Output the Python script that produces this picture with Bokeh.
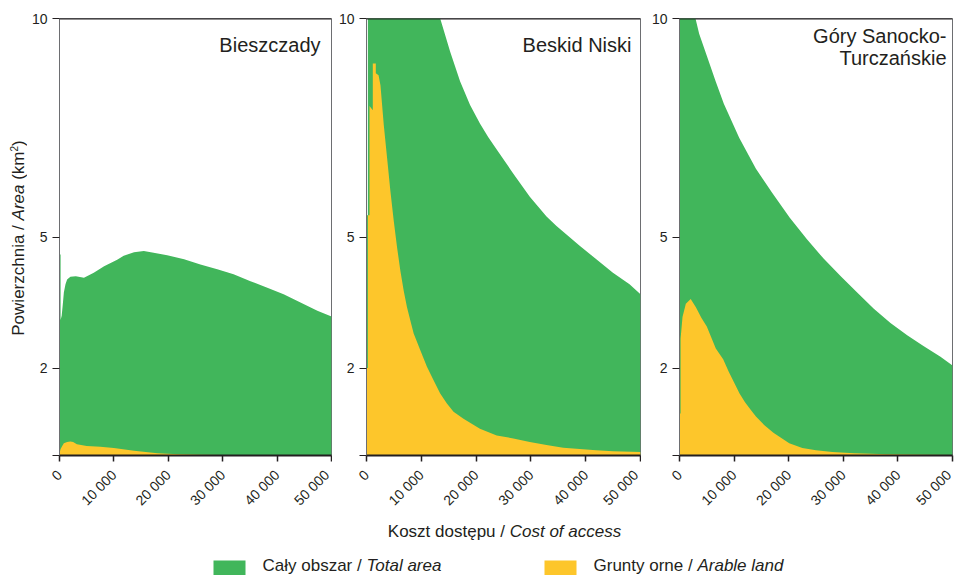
import math
from bokeh.plotting import figure
from bokeh.models import Range1d, FixedTicker, Label, Span, BoxAnnotation
from bokeh.layouts import row, column
from bokeh.embed import file_html
from bokeh.resources import INLINE

# ---------------- data ----------------
x_ticks = [0, 10000, 20000, 30000, 40000, 50000]
x_tick_labels = ["0", "10 000", "20 000", "30 000", "40 000", "50 000"]
y_ticks = [0, 2, 5, 10]
y_tick_labels = ["", "2", "5", "10"]

panel_titles = [["Bieszczady"], ["Beskid Niski"], ["Góry Sanocko-", "Turczańskie"]]

# Bieszczady
bie_x_total = [0, 200, 200, 400, 600, 800, 1100, 1400, 2000, 3000, 4500, 6300, 8200, 10600,
               11800, 13700, 15500, 17300, 19800, 22900, 25900, 29000, 32000, 35100, 38200,
               41200, 44300, 47400, 50000]
bie_total = [4.6, 4.6, 3.1, 3.2, 3.45, 3.73, 3.92, 4.03, 4.09, 4.1, 4.07, 4.18, 4.33, 4.48,
             4.57, 4.65, 4.68, 4.64, 4.58, 4.49, 4.37, 4.26, 4.15, 3.99, 3.84, 3.69, 3.5, 3.31, 3.18]
bie_x_arable = [0, 200, 500, 800, 1400, 2000, 2500, 3200, 5000, 7500, 10000, 12000, 13700,
                15000, 16700, 18000, 19800, 22000, 26000, 30000, 35000, 40000, 50000]
bie_arable = [0.05, 0.15, 0.22, 0.28, 0.31, 0.32, 0.31, 0.26, 0.22, 0.2, 0.17, 0.14, 0.11,
              0.09, 0.07, 0.05, 0.04, 0.03, 0.015, 0.01, 0.01, 0.005, 0.005]

# Beskid Niski
bn_x_total = [0, 250, 250, 3000, 6000, 9000, 11500, 13450, 15270, 17090, 18900, 20700, 22200,
              23760, 26800, 29800, 32850, 34670, 38900, 41940, 44970, 48000, 50000]
bn_total = [5.5, 5.5, 17.0, 15.5, 13.5, 12.0, 10.8, 10.0, 9.24, 8.56, 8.02, 7.6, 7.29,
            7.0, 6.45, 5.92, 5.47, 5.25, 4.8, 4.49, 4.18, 3.92, 3.69]
bn_x_arable = [0, 250, 250, 550, 550, 1150, 1150, 1700, 1700, 2200, 2550, 3150, 3760, 4360,
               4970, 5580, 6180, 6790, 7390, 8000, 8610, 9820, 11030, 12240, 13450, 14670,
               15880, 17700, 20700, 23760, 26800, 29800, 32850, 35900, 38900, 41900, 45000, 50000]
bn_arable = [2.0, 2.0, 5.5, 5.5, 8.0, 7.9, 8.97, 8.97, 8.75, 8.7, 8.47, 7.57, 6.81, 6.05,
             5.37, 4.76, 4.23, 3.77, 3.39, 3.09, 2.79, 2.41, 2.03, 1.72, 1.42, 1.19,
             1.0, 0.84, 0.61, 0.46, 0.39, 0.31, 0.24, 0.18, 0.15, 0.12, 0.1, 0.08]

# Góry Sanocko-Turczańskie
gst_x_total = [0, 1500, 2930, 3600, 5000, 6650, 8120, 10930, 14000, 17030, 20200, 23380,
               26430, 29490, 32540, 35590, 38640, 41700, 44750, 47800, 50000]
gst_total = [13.0, 11.2, 10.0, 9.65, 9.15, 8.55, 8.05, 7.27, 6.56, 6.0, 5.44, 4.94,
             4.5, 4.11, 3.73, 3.36, 3.03, 2.75, 2.5, 2.26, 2.06]
gst_x_arable = [0, 200, 200, 550, 1160, 2050, 3000, 4000, 5000, 6650, 8000, 9000, 10000,
                11000, 12000, 13000, 14000, 15500, 17200, 20100, 22500, 25000, 28000,
                32000, 38000, 45000, 50000]
gst_arable = [0.96, 0.96, 2.67, 3.17, 3.47, 3.58, 3.39, 3.15, 2.95, 2.45, 2.2, 1.92, 1.67,
              1.42, 1.22, 1.05, 0.89, 0.7, 0.52, 0.28, 0.17, 0.12, 0.08, 0.05, 0.03, 0.015, 0.01]

legend_labels = [("Cały obszar /", "Total area"), ("Grunty orne /", "Arable land")]
x_axis_label = ("Koszt dostępu /", "Cost of access")
y_axis_label = ("Powierzchnia /", "Area", "(km", "2", ")")

# ---------------- style ----------------
GREEN = "#41b65b"
YELLOW = "#fdc62b"
INK = "#231f20"
GRAY = "#6d6e71"
FONT = "Liberation Sans"
TICK_FS = "14px"

# Arial / Liberation Sans advance widths (per 1000 em)
AW = {' ': 278, '/': 278, '(': 333, ')': 333, '-': 333, '2': 556,
      'a': 556, 'b': 556, 'c': 500, 'd': 556, 'e': 556, 'f': 278, 'h': 556, 'i': 222,
      'k': 500, 'l': 222, 'm': 833, 'n': 556, 'o': 556, 'p': 556, 'r': 333, 's': 500,
      't': 278, 'u': 556, 'w': 722, 'y': 500, 'z': 500, 'ę': 556, 'ł': 222,
      'A': 667, 'C': 722, 'G': 778, 'K': 667, 'P': 667, 'T': 611}


def tw(s, size):
    return sum(AW.get(ch, 556) for ch in s) * size / 1000.0


def bshift(size):
    # empirical: rendered alphabetic baseline sits lower than the anchor
    return 0.34 * size


TOP = 18
FRAME_H = 439
BOTTOM = 60
ROW_H = TOP + FRAME_H + BOTTOM
TOTAL_W = 954
TOTAL_H = 575


def make_panel(width, left, right, xt, yt, xa, ya, titles, inset):
    p = figure(width=width, height=ROW_H, x_range=Range1d(0, 50000), y_range=Range1d(0, 10),
               output_backend="svg", toolbar_location=None,
               min_border_left=left, min_border_right=right,
               min_border_top=TOP, min_border_bottom=BOTTOM)
    p.background_fill_color = "white"
    p.border_fill_color = "white"
    p.outline_line_color = GRAY
    p.outline_line_width = 1
    p.grid.visible = False

    p.varea(x=xt, y1=0, y2=yt, fill_color=GREEN)
    p.varea(x=xa, y1=0, y2=ya, fill_color=YELLOW)

    p.add_layout(Span(location=10, dimension="width", line_color=INK, line_width=2))

    xa_ = p.xaxis[0]
    xa_.ticker = FixedTicker(ticks=x_ticks)
    xa_.major_label_overrides = {t: l for t, l in zip(x_ticks, x_tick_labels)}
    xa_.major_label_orientation = math.pi / 4
    xa_.major_label_text_font = FONT
    xa_.major_label_text_font_size = TICK_FS
    xa_.major_label_text_color = INK
    xa_.major_label_standoff = 11
    xa_.axis_line_color = INK
    xa_.axis_line_width = 2
    xa_.major_tick_line_color = INK
    xa_.major_tick_line_width = 1.5
    xa_.major_tick_out = 6
    xa_.major_tick_in = 0
    xa_.minor_tick_line_color = None

    ya_ = p.yaxis[0]
    ya_.ticker = FixedTicker(ticks=y_ticks)
    ya_.major_label_overrides = {t: l for t, l in zip(y_ticks, y_tick_labels)}
    ya_.major_label_text_font = FONT
    ya_.major_label_text_font_size = TICK_FS
    ya_.major_label_text_color = INK
    ya_.major_label_standoff = 5
    ya_.axis_line_color = GRAY
    ya_.axis_line_width = 1
    ya_.major_tick_line_color = INK
    ya_.major_tick_line_width = 1
    ya_.major_tick_out = 7
    ya_.major_tick_in = 0
    ya_.minor_tick_line_color = None

    tfs = 20
    if len(titles) == 1:
        baselines = [33.7]
    else:
        baselines = [24.3, 46.3]
    for t, b in zip(titles, baselines):
        p.add_layout(Label(x=50000, y=10, x_offset=-inset, y_offset=-(b - bshift(tfs)), text=t,
                           text_align="right", text_baseline="alphabetic",
                           text_font=FONT, text_font_size=f"{tfs}px", text_color=INK))
    return p


YL_W = 27
P1_W = 332 - YL_W
p1 = make_panel(P1_W, 32, 1, bie_x_total, bie_total, bie_x_arable, bie_arable, panel_titles[0], 11)
p2 = make_panel(309, 34, 1, bn_x_total, bn_total, bn_x_arable, bn_arable, panel_titles[1], 9)
p3 = make_panel(TOTAL_W - YL_W - P1_W - 309, 38, 2, gst_x_total, gst_total, gst_x_arable,
                gst_arable, panel_titles[2], 6)

# ---------------- y axis label (rotated, mixed styles) ----------------
yl = figure(width=YL_W, height=ROW_H, x_range=Range1d(0, YL_W), y_range=Range1d(0, 10),
            output_backend="svg", toolbar_location=None,
            min_border_left=0, min_border_right=0, min_border_top=TOP, min_border_bottom=BOTTOM,
            x_axis_type=None, y_axis_type=None)
yl.grid.visible = False
yl.outline_line_color = None
FS = 17
parts = y_axis_label
w0 = tw(parts[0] + " ", FS)
w1 = tw(parts[1] + " ", FS)
w2 = tw(parts[2], FS)
w3 = tw(parts[3], 10)
total_len = w0 + w1 + w2 + w3 + tw(parts[4], FS)
start = -1 - total_len / 2        # pixels relative to frame centre (positive = up)
base_x = 23.5 - bshift(FS)
sup_x = 23.5 - 7 - bshift(10)
common = dict(angle=math.pi / 2, text_align="left", text_baseline="alphabetic",
              text_font=FONT, text_color=INK)
yl.add_layout(Label(x=base_x, y=5, y_offset=start, text=parts[0],
                    text_font_size=f"{FS}px", **common))
yl.add_layout(Label(x=base_x, y=5, y_offset=start + w0, text=parts[1], text_font_size=f"{FS}px",
                    text_font_style="italic", **common))
yl.add_layout(Label(x=base_x, y=5, y_offset=start + w0 + w1, text=parts[2],
                    text_font_size=f"{FS}px", **common))
yl.add_layout(Label(x=sup_x, y=5, y_offset=start + w0 + w1 + w2, text=parts[3],
                    text_font_size="10px", **common))
yl.add_layout(Label(x=base_x, y=5, y_offset=start + w0 + w1 + w2 + w3, text=parts[4],
                    text_font_size=f"{FS}px", **common))

# ---------------- bottom: x axis label and legend ----------------
BH = TOTAL_H - ROW_H
bot = figure(width=TOTAL_W, height=BH, x_range=Range1d(0, TOTAL_W), y_range=Range1d(0, BH),
             output_backend="svg", toolbar_location=None, min_border=0,
             x_axis_type=None, y_axis_type=None)
bot.grid.visible = False
bot.outline_line_color = None


def page_y(y):
    return TOTAL_H - y


XFS = 17
xw0 = tw(x_axis_label[0] + " ", XFS)
xw_total = xw0 + tw(x_axis_label[1], XFS)
xs = 504 - xw_total / 2
xbase = page_y(537 - bshift(XFS))
bot.add_layout(Label(x=xs, y=xbase, text=x_axis_label[0], text_font=FONT, text_font_size=f"{XFS}px",
                     text_color=INK, text_baseline="alphabetic", text_align="left"))
bot.add_layout(Label(x=xs + xw0, y=xbase, text=x_axis_label[1], text_font=FONT,
                     text_font_size=f"{XFS}px", text_font_style="italic",
                     text_color=INK, text_baseline="alphabetic", text_align="left"))

leg_base = page_y(571 - bshift(17))
sq_top = page_y(560)
for (lab_n, lab_i), col, sq_left, tx in zip(legend_labels, [GREEN, YELLOW], [213, 544], [262, 593]):
    bot.add_layout(BoxAnnotation(left=sq_left, right=sq_left + 32, top=sq_top, bottom=-10,
                                 fill_color=col, fill_alpha=1.0, line_color=None))
    bot.add_layout(Label(x=tx, y=leg_base, text=lab_n, text_font=FONT, text_font_size="17px",
                         text_color=INK, text_baseline="alphabetic", text_align="left"))
    bot.add_layout(Label(x=tx + tw(lab_n + " ", 17), y=leg_base, text=lab_i, text_font=FONT,
                         text_font_size="17px", text_font_style="italic",
                         text_color=INK, text_baseline="alphabetic", text_align="left"))

layout = column(row(yl, p1, p2, p3), bot)
open("out.html", "w").write(file_html(layout, INLINE))
